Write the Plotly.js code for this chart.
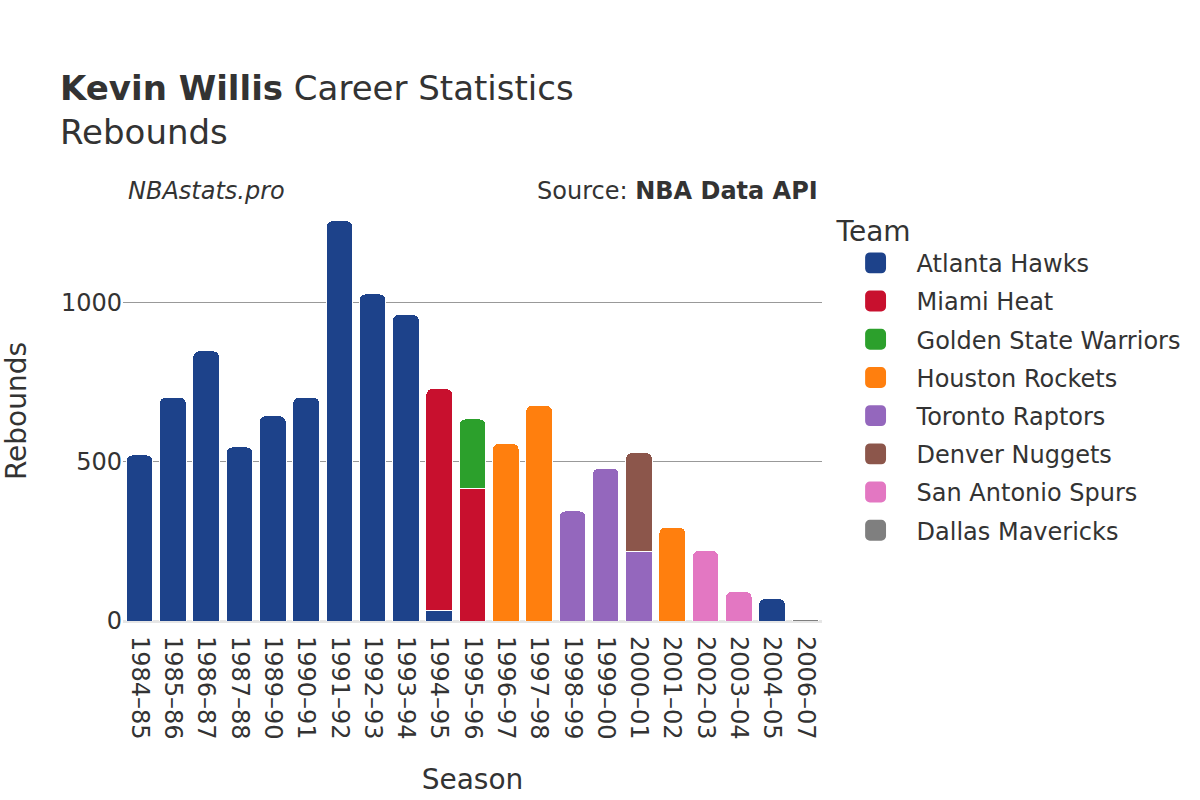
<!DOCTYPE html>
<html>
<head>
<meta charset="utf-8">
<script src="https://cdn.plot.ly/plotly-3.0.1.min.js"></script>
<style>html,body{margin:0;padding:0;background:#fff;}#chart{width:1200px;height:800px;}</style>
</head>
<body>
<div id="chart"></div>
<script>
const seasons = ["1984–85","1985–86","1986–87","1987–88","1989–90","1990–91","1991–92","1992–93","1993–94","1994–95","1995–96","1996–97","1997–98","1998–99","1999–00","2000–01","2001–02","2002–03","2003–04","2004–05","2006–07"];

const teams = ["Atlanta Hawks","Miami Heat","Golden State Warriors","Houston Rockets","Toronto Raptors","Denver Nuggets","San Antonio Spurs","Dallas Mavericks"];
const teamColors = ["#1d428a","#c8102e","#2ca02c","#ff7f0e","#9467bd","#8c564b","#e377c2","#7f7f7f"];

// rebounds per season for each team (null = did not play for team)
const atlantaHawks   = [522,704,849,547,645,704,1258,1028,963,33,null,null,null,null,null,null,null,null,null,70,null];
const miamiHeat      = [null,null,null,null,null,null,null,null,null,697,418,null,null,null,null,null,null,null,null,null,null];
const goldenState    = [null,null,null,null,null,null,null,null,null,null,217,null,null,null,null,null,null,null,null,null,null];
const houstonRockets = [null,null,null,null,null,null,null,null,null,null,null,558,678,null,null,null,295,null,null,null,null];
const torontoRaptors = [null,null,null,null,null,null,null,null,null,null,null,null,null,346,480,220,null,null,null,null,null];
const denverNuggets  = [null,null,null,null,null,null,null,null,null,null,null,null,null,null,null,309,null,null,null,null,null];
const sanAntonio     = [null,null,null,null,null,null,null,null,null,null,null,null,null,null,null,null,null,221,93,null,null];
const dallasMavs     = [null,null,null,null,null,null,null,null,null,null,null,null,null,null,null,null,null,null,null,null,5];

const series = [atlantaHawks, miamiHeat, goldenState, houstonRockets, torontoRaptors, denverNuggets, sanAntonio, dallasMavs];

const font = "DejaVu Sans, sans-serif";
const txt = "#333333";

const traces = teams.map((t, i) => ({
  type: "bar",
  name: t,
  legendgroup: "g" + i,
  x: seasons,
  y: series[i],
  marker: {color: teamColors[i], line: {color: "#ffffff", width: 1}},
  hoverinfo: "x+y+name"
}));

const layout = {
  width: 1200,
  height: 800,
  barmode: "stack",
  bargap: 0.2,
  barcornerradius: 6,
  paper_bgcolor: "#ffffff",
  plot_bgcolor: "#ffffff",
  font: {family: font, color: txt, size: 24},
  margin: {l: 123, r: 378, t: 201, b: 179},
  title: {
    text: "<b>Kevin Willis</b> Career Statistics<br>Rebounds",
    x: 0.05, xanchor: "left", xref: "container",
    y: 0.875, yanchor: "top", yref: "container",
    font: {family: font, size: 34, color: txt}
  },
  xaxis: {
    type: "category",
    categoryorder: "array",
    categoryarray: seasons,
    tickangle: 90,
    ticklabelstandoff: 14,
    tickfont: {size: 24, color: txt},
    title: {text: "Season", font: {size: 28, color: txt}, standoff: 30},
    showgrid: false,
    showline: false
  },
  yaxis: {
    range: [0, 1320],
    tickvals: [0, 500, 1000],
    ticktext: ["0", "500", "1000"],
    tickfont: {size: 24, color: txt},
    title: {text: "Rebounds", font: {size: 28, color: txt}, standoff: 32},
    showgrid: true,
    gridcolor: "#999999",
    gridwidth: 1,
    zeroline: true,
    zerolinecolor: "#e6e6e6",
    zerolinewidth: 3
  },
  legend: {
    title: {text: "Team", font: {size: 28, color: txt}},
    x: 1.018, xanchor: "left",
    y: 0.992, yanchor: "top",
    font: {size: 24, color: txt},
    traceorder: "grouped",
    tracegroupgap: 4,
    itemwidth: 72
  },
  annotations: [
    {
      text: "<i>NBAstats.pro</i>",
      xref: "paper", yref: "paper",
      x: 0.005, y: 1.024, xanchor: "left", yanchor: "middle",
      showarrow: false, font: {size: 24, color: txt}
    },
    {
      text: "Source: <b>NBA Data API</b>",
      xref: "paper", yref: "paper",
      x: 0.997, y: 1.024, xanchor: "right", yanchor: "middle",
      showarrow: false, font: {size: 24, color: txt}
    }
  ]
};

Plotly.newPlot("chart", traces, layout, {displayModeBar: false, responsive: false}).then(function () {
  document.querySelectorAll("#chart .legend .legendpoints path").forEach(function (p) {
    const t = p.getAttribute("transform") || "";
    p.setAttribute("transform", t + " scale(1.9)");
  });
});
</script>
</body>
</html>
